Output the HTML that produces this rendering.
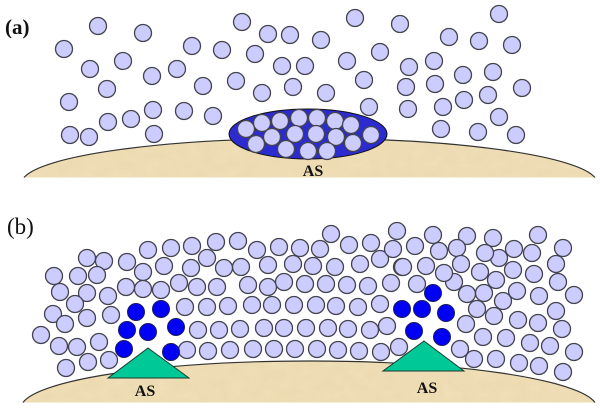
<!DOCTYPE html>
<html>
<head>
<meta charset="utf-8">
<style>
html,body{margin:0;padding:0;background:#fff;width:600px;height:408px;overflow:hidden}
svg{display:block}
text{font-family:"Liberation Serif",serif;fill:#111}
</style>
</head>
<body>
<svg width="600" height="408" viewBox="0 0 600 408" xmlns="http://www.w3.org/2000/svg">
<defs>
<filter id="tex" x="0" y="0" width="100%" height="100%">
<feTurbulence type="fractalNoise" baseFrequency="0.07 0.1" numOctaves="3" seed="4" result="n"/>
<feColorMatrix in="n" type="matrix" values="0 0 0 0 0.80  0 0 0 0 0.66  0 0 0 0 0.40  0.9 0 0 0 -0.28" result="c"/>
<feComposite in="c" in2="SourceGraphic" operator="in" result="d"/>
<feMerge><feMergeNode in="SourceGraphic"/><feMergeNode in="d"/></feMerge>
</filter>
</defs>

<path d="M24,177.5 A288,45 0 0 1 595,177.5 Z" fill="#efdeb6" filter="url(#tex)"/>
<path d="M24,177.5 A288,45 0 0 1 595,177.5" fill="none" stroke="#333" stroke-width="1.2"/>
<path d="M23,402.5 A288,47 0 0 1 595,402.5 Z" fill="#efdeb6" filter="url(#tex)"/>
<path d="M23,402.5 A288,47 0 0 1 595,402.5" fill="none" stroke="#333" stroke-width="1.2"/>

<ellipse cx="308" cy="134" rx="79" ry="25" fill="#2b2bd0" stroke="#111" stroke-width="1"/>

<g fill="#ccccff" stroke="#44444f" stroke-width="1.3">
<!-- panel a -->
<circle cx="98" cy="26" r="8.5"/><circle cx="143" cy="33" r="8.5"/><circle cx="64" cy="49" r="8.5"/><circle cx="242" cy="22" r="8.5"/><circle cx="268" cy="34" r="8.5"/><circle cx="290" cy="35" r="8.5"/><circle cx="192" cy="46" r="8.5"/><circle cx="222" cy="50" r="8.5"/><circle cx="255" cy="54" r="8.5"/><circle cx="123" cy="61" r="8.5"/><circle cx="90" cy="69" r="8.5"/><circle cx="152" cy="76" r="8.5"/><circle cx="177" cy="69" r="8.5"/><circle cx="282" cy="66" r="8.5"/><circle cx="305" cy="66" r="8.5"/><circle cx="203" cy="86" r="8.5"/><circle cx="236" cy="81" r="8.5"/><circle cx="262" cy="93" r="8.5"/><circle cx="293" cy="87" r="8.5"/><circle cx="107" cy="89" r="8.5"/><circle cx="69" cy="102" r="8.5"/><circle cx="153" cy="110" r="8.5"/><circle cx="184" cy="111" r="8.5"/><circle cx="213" cy="116" r="8.5"/><circle cx="131" cy="119" r="8.5"/><circle cx="108" cy="122" r="8.5"/><circle cx="70" cy="135" r="8.5"/><circle cx="89" cy="137" r="8.5"/><circle cx="154" cy="134" r="8.5"/>
<circle cx="355" cy="18" r="8.5"/><circle cx="400" cy="24" r="8.5"/><circle cx="321" cy="40" r="8.5"/><circle cx="449" cy="37" r="8.5"/><circle cx="479" cy="41" r="8.5"/><circle cx="499" cy="14" r="8.5"/><circle cx="512" cy="45" r="8.5"/><circle cx="380" cy="52" r="8.5"/><circle cx="347" cy="61" r="8.5"/><circle cx="434" cy="61" r="8.5"/><circle cx="409" cy="67" r="8.5"/><circle cx="463" cy="75" r="8.5"/><circle cx="493" cy="72" r="8.5"/><circle cx="364" cy="80" r="8.5"/><circle cx="406" cy="87" r="8.5"/><circle cx="435" cy="84" r="8.5"/><circle cx="522" cy="88" r="8.5"/><circle cx="326" cy="93" r="8.5"/><circle cx="488" cy="95" r="8.5"/><circle cx="464" cy="100" r="8.5"/><circle cx="369" cy="107" r="8.5"/><circle cx="408" cy="109" r="8.5"/><circle cx="443" cy="107" r="8.5"/><circle cx="499" cy="117" r="8.5"/><circle cx="441" cy="129" r="8.5"/><circle cx="478" cy="132" r="8.5"/><circle cx="516" cy="135" r="8.5"/>
<!-- inside ellipse -->
<circle cx="246" cy="129" r="8.5"/><circle cx="262" cy="123" r="8.5"/><circle cx="280" cy="121" r="8.5"/><circle cx="299" cy="118" r="8.5"/><circle cx="317" cy="118" r="8.5"/><circle cx="335" cy="121" r="8.5"/><circle cx="351" cy="125" r="8.5"/><circle cx="371" cy="135" r="8.5"/><circle cx="256" cy="144" r="8.5"/><circle cx="272" cy="137" r="8.5"/><circle cx="295" cy="134" r="8.5"/><circle cx="316" cy="134" r="8.5"/><circle cx="336" cy="137" r="8.5"/><circle cx="353" cy="143" r="8.5"/><circle cx="286" cy="149" r="8.5"/><circle cx="308" cy="151" r="8.5"/><circle cx="327" cy="151" r="8.5"/>
<!-- panel b left -->
<circle cx="104" cy="261" r="8.5"/><circle cx="87" cy="258" r="8.5"/><circle cx="127" cy="262" r="8.5"/><circle cx="148" cy="250" r="8.5"/><circle cx="171" cy="248" r="8.5"/><circle cx="192" cy="246" r="8.5"/><circle cx="164" cy="266" r="8.5"/><circle cx="143" cy="272" r="8.5"/><circle cx="207" cy="258" r="8.5"/><circle cx="191" cy="268" r="8.5"/><circle cx="54" cy="276" r="8.5"/><circle cx="78" cy="276" r="8.5"/><circle cx="97" cy="275" r="8.5"/><circle cx="60" cy="292" r="8.5"/><circle cx="87" cy="293" r="8.5"/><circle cx="126" cy="287" r="8.5"/><circle cx="143" cy="289" r="8.5"/><circle cx="161" cy="290" r="8.5"/><circle cx="179" cy="283" r="8.5"/><circle cx="197" cy="287" r="8.5"/><circle cx="108" cy="296" r="8.5"/><circle cx="75" cy="304" r="8.5"/><circle cx="53" cy="314" r="8.5"/><circle cx="65" cy="324" r="8.5"/><circle cx="87" cy="318" r="8.5"/><circle cx="111" cy="315" r="8.5"/><circle cx="185" cy="307" r="8.5"/><circle cx="41" cy="335" r="8.5"/><circle cx="59" cy="346" r="8.5"/><circle cx="77" cy="347" r="8.5"/><circle cx="99" cy="342" r="8.5"/><circle cx="198" cy="330" r="8.5"/><circle cx="66" cy="368" r="8.5"/><circle cx="88" cy="362" r="8.5"/><circle cx="109" cy="360" r="8.5"/>
<!-- panel b middle -->
<circle cx="331" cy="234" r="8.5"/><circle cx="397" cy="231" r="8.5"/><circle cx="216" cy="242" r="8.5"/><circle cx="238" cy="241" r="8.5"/><circle cx="257" cy="250" r="8.5"/><circle cx="279" cy="247" r="8.5"/><circle cx="300" cy="248" r="8.5"/><circle cx="320" cy="249" r="8.5"/><circle cx="349" cy="245" r="8.5"/><circle cx="371" cy="243" r="8.5"/><circle cx="380" cy="259" r="8.5"/><circle cx="393" cy="249" r="8.5"/><circle cx="360" cy="264" r="8.5"/><circle cx="335" cy="267" r="8.5"/><circle cx="313" cy="266" r="8.5"/><circle cx="293" cy="264" r="8.5"/><circle cx="268" cy="265" r="8.5"/><circle cx="241" cy="267" r="8.5"/><circle cx="224" cy="268" r="8.5"/><circle cx="402" cy="267" r="8.5"/>
<circle cx="217" cy="287" r="8.5"/><circle cx="248" cy="285" r="8.5"/><circle cx="268" cy="287" r="8.5"/><circle cx="284" cy="282" r="8.5"/><circle cx="305" cy="284" r="8.5"/><circle cx="326" cy="284" r="8.5"/><circle cx="347" cy="285" r="8.5"/><circle cx="368" cy="286" r="8.5"/><circle cx="391" cy="283" r="8.5"/>
<circle cx="207" cy="307" r="8.5"/><circle cx="228" cy="306" r="8.5"/><circle cx="252" cy="305" r="8.5"/><circle cx="272" cy="305" r="8.5"/><circle cx="294" cy="305" r="8.5"/><circle cx="316" cy="305" r="8.5"/><circle cx="336" cy="306" r="8.5"/><circle cx="358" cy="307" r="8.5"/><circle cx="380" cy="304" r="8.5"/>
<circle cx="219" cy="330" r="8.5"/><circle cx="240" cy="329" r="8.5"/><circle cx="264" cy="328" r="8.5"/><circle cx="284" cy="328" r="8.5"/><circle cx="306" cy="328" r="8.5"/><circle cx="328" cy="328" r="8.5"/><circle cx="348" cy="329" r="8.5"/><circle cx="370" cy="330" r="8.5"/><circle cx="387" cy="326" r="8.5"/>
<circle cx="187" cy="350" r="8.5"/><circle cx="208" cy="351" r="8.5"/><circle cx="230" cy="350" r="8.5"/><circle cx="253" cy="349" r="8.5"/><circle cx="274" cy="349" r="8.5"/><circle cx="295" cy="349" r="8.5"/><circle cx="317" cy="349" r="8.5"/><circle cx="338" cy="350" r="8.5"/><circle cx="359" cy="351" r="8.5"/><circle cx="381" cy="352" r="8.5"/><circle cx="399" cy="347" r="8.5"/>
<!-- panel b right -->
<circle cx="433" cy="235" r="8.5"/><circle cx="467" cy="236" r="8.5"/><circle cx="493" cy="238" r="8.5"/><circle cx="538" cy="235" r="8.5"/><circle cx="563" cy="248" r="8.5"/><circle cx="415" cy="246" r="8.5"/><circle cx="439" cy="251" r="8.5"/><circle cx="457" cy="248" r="8.5"/><circle cx="499" cy="258" r="8.5"/><circle cx="485" cy="253" r="8.5"/><circle cx="514" cy="249" r="8.5"/><circle cx="532" cy="253" r="8.5"/><circle cx="556" cy="264" r="8.5"/><circle cx="403" cy="267" r="8.5"/><circle cx="426" cy="266" r="8.5"/><circle cx="461" cy="264" r="8.5"/><circle cx="454" cy="282" r="8.5"/><circle cx="444" cy="273" r="8.5"/><circle cx="480" cy="272" r="8.5"/><circle cx="496" cy="280" r="8.5"/><circle cx="513" cy="270" r="8.5"/><circle cx="534" cy="274" r="8.5"/><circle cx="558" cy="282" r="8.5"/><circle cx="417" cy="284" r="8.5"/><circle cx="467" cy="294" r="8.5"/><circle cx="484" cy="293" r="8.5"/><circle cx="517" cy="291" r="8.5"/><circle cx="503" cy="301" r="8.5"/><circle cx="539" cy="296" r="8.5"/><circle cx="574" cy="295" r="8.5"/><circle cx="477" cy="309" r="8.5"/><circle cx="494" cy="316" r="8.5"/><circle cx="556" cy="311" r="8.5"/><circle cx="518" cy="320" r="8.5"/><circle cx="538" cy="323" r="8.5"/><circle cx="466" cy="324" r="8.5"/><circle cx="562" cy="329" r="8.5"/><circle cx="483" cy="337" r="8.5"/><circle cx="506" cy="338" r="8.5"/><circle cx="530" cy="343" r="8.5"/><circle cx="550" cy="346" r="8.5"/><circle cx="574" cy="352" r="8.5"/><circle cx="460" cy="349" r="8.5"/><circle cx="474" cy="359" r="8.5"/><circle cx="496" cy="359" r="8.5"/><circle cx="519" cy="363" r="8.5"/><circle cx="539" cy="366" r="8.5"/><circle cx="563" cy="372" r="8.5"/>
</g>

<g fill="#0000f5" stroke="#1a1a60" stroke-width="1">
<circle cx="136" cy="312" r="8.5"/><circle cx="161" cy="309" r="8.5"/><circle cx="127" cy="330" r="8.5"/><circle cx="148" cy="332" r="8.5"/><circle cx="176" cy="327" r="8.5"/><circle cx="124" cy="349" r="8.5"/><circle cx="171" cy="352" r="8.5"/>
<circle cx="433" cy="293" r="8.5"/><circle cx="402" cy="309" r="8.5"/><circle cx="422" cy="309" r="8.5"/><circle cx="446" cy="313" r="8.5"/><circle cx="414" cy="331" r="8.5"/><circle cx="442" cy="337" r="8.5"/>
</g>

<polygon points="148,348 189,378 108,378" fill="#00c896" stroke="#1c3a30" stroke-width="1"/>
<polygon points="424,341 464,371 383,371" fill="#00c896" stroke="#1c3a30" stroke-width="1"/>

<text x="5" y="34" font-size="21" font-weight="bold">(a)</text>
<text x="7" y="234" font-size="23">(b)</text>
<text x="313" y="176" font-size="16" font-weight="bold" text-anchor="middle">AS</text>
<text x="145" y="396" font-size="16" font-weight="bold" text-anchor="middle">AS</text>
<text x="427" y="393" font-size="16" font-weight="bold" text-anchor="middle">AS</text>
</svg>
</body>
</html>
